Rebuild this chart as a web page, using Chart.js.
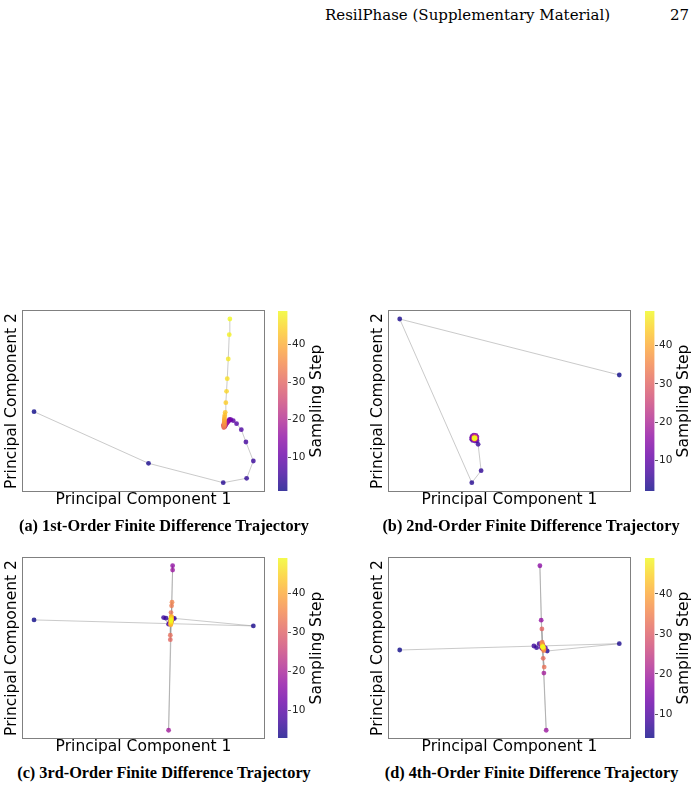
<!DOCTYPE html>
<html>
<head>
<meta charset="utf-8">
<script src="https://cdn.jsdelivr.net/npm/chart.js@4.4.1/dist/chart.umd.min.js"></script>
<style>
  html, body { margin: 0; padding: 0; background: #fff; }
  body { width: 700px; height: 787px; position: relative; overflow: hidden; }
  canvas { position: absolute; }
  .txt { position: absolute; white-space: nowrap; line-height: 1; color: #000; }
  .hdr { font-family: "DejaVu Serif", serif; font-size: 15px; transform: translateY(-50%); }
  .cap { font-family: "Liberation Serif", "Times New Roman", serif; font-weight: bold; font-size: 16.3px; transform: translate(-50%, -50%); }
  .cbl { font-family: "DejaVu Sans", sans-serif; font-size: 15.5px; transform: translate(-50%, -50%) rotate(-90deg); }
</style>
</head>
<body>
<div class="txt hdr" style="left:325px; top:15px">ResilPhase (Supplementary Material)</div>
<div class="txt hdr" style="left:670px; top:15px">27</div>

<script>
// ── Data: PCA coordinates per sampling step (step = FIRST + index) ─────────
const LAST_STEP = 49;
const CBAR_TICKS = [10, 20, 30, 40];

// (a) 1st-order differences, steps 1..49
const A_FIRST = 1;
const A_PC1 = [11.0, 125.0, 199.4, 222.7, 229.4, 222.0, 217.4, 212.7, 209.4, 207.0,
  205.7, 205.2, 204.5, 203.9, 203.3, 202.8, 202.3, 201.9, 201.5, 201.2,
  200.9, 200.6, 200.4, 200.2, 200.1, 200.0, 200.0, 200.1, 200.2, 200.3,
  200.0, 200.1, 200.2, 200.3, 200.4, 200.4, 200.5, 200.5, 200.6, 200.6,
  200.7, 201.0, 201.4, 202.0, 202.7, 203.4, 204.4, 205.4, 206.0];
const A_PC2 = [79.3, 27.7, 8.3, 12.7, 30.0, 49.0, 61.3, 67.3, 70.3, 71.3,
  71.5, 70.5, 69.8, 69.2, 68.5, 67.8, 67.1, 66.4, 65.7, 65.0,
  64.6, 64.3, 64.5, 64.9, 65.3, 65.8, 66.2, 66.5, 66.0, 65.4,
  63.4, 64.0, 64.8, 65.7, 66.6, 67.6, 68.7, 69.9, 71.0, 72.1,
  74.0, 76.0, 78.7, 88.3, 99.7, 112.3, 132.0, 156.3, 172.0];

// (b) 2nd-order differences, steps 2..49
const B_FIRST = 2;
const B_PC1 = [230.0, 10.7, 82.7, 92.0, 89.0, 88.0, 86.0, 83.6, 82.6, 82.6,
  83.4, 84.8, 86.8, 87.8, 87.6, 86.8, 85.8, 84.4, 83.8, 84.2,
  85.2, 86.3, 86.6, 86.0, 85.0, 84.6, 84.9, 85.6, 86.1, 86.0,
  85.5, 85.0, 85.0, 85.4, 85.8, 85.7, 85.4, 85.2, 85.3, 85.5,
  85.5, 85.4, 85.3, 85.4, 85.5, 85.4, 85.4, 85.4];
const B_PC2 = [116.0, 172.0, 8.3, 20.3, 46.7, 50.2, 49.9, 50.6, 51.8, 53.6,
  55.0, 55.8, 55.6, 54.2, 52.6, 51.5, 50.9, 51.6, 53.1, 54.4,
  54.9, 54.2, 53.0, 52.0, 51.8, 52.6, 53.7, 54.0, 53.5, 52.7,
  52.2, 52.5, 53.2, 53.5, 53.2, 52.7, 52.5, 52.8, 53.0, 52.9,
  52.7, 52.6, 52.8, 52.9, 52.8, 52.7, 52.8, 52.7];

// (c) 3rd-order differences, steps 3..49
const C_FIRST = 3;
const C_PC1 = [11.0, 229.4, 150.7, 142.4, 140.0, 145.0, 147.7, 146.2, 149.2, 146.7,
  148.2, 147.2, 147.9, 147.7, 149.0, 149.0, 145.0, 147.2, 147.6, 147.0,
  147.9, 147.3, 148.1, 147.4, 147.8, 147.5, 147.6, 147.3, 146.7, 146.7,
  147.4, 148.0, 148.4, 147.8, 147.1, 147.9, 147.0, 147.7, 147.2, 147.6,
  147.3, 147.5, 147.4, 147.5, 147.4, 147.5, 147.4];
const C_PC2 = [117.7, 111.7, 119.2, 119.4, 120.0, 113.4, 118.7, 115.7, 119.2, 114.7,
  117.2, 116.2, 117.5, 117.2, 171.7, 167.4, 7.7, 116.2, 118.0, 117.0,
  116.4, 118.5, 117.9, 115.8, 117.4, 118.9, 117.3, 116.5, 98.0, 102.4,
  125.0, 131.7, 135.4, 119.6, 114.4, 120.8, 113.3, 121.3, 112.8, 120.5,
  114.0, 119.4, 115.2, 118.4, 116.2, 117.6, 116.9];

// (d) 4th-order differences, steps 4..49
const D_FIRST = 4;
const D_PC1 = [10.7, 230.0, 158.0, 147.4, 144.7, 150.0, 156.2, 152.7, 154.2, 152.2,
  153.7, 153.2, 153.0, 150.7, 152.0, 157.0, 154.7, 153.4, 153.9, 153.1,
  154.2, 153.5, 153.8, 153.3, 153.6, 153.2, 153.8, 152.7, 154.0, 155.0,
  153.0, 154.5, 152.6, 154.9, 152.9, 154.4, 153.2, 154.1, 153.4, 153.9,
  153.5, 153.8, 153.6, 153.7, 153.6, 153.6];
const D_PC2 = [87.7, 94.0, 86.7, 90.0, 91.7, 94.0, 89.7, 91.7, 88.7, 90.2,
  91.7, 89.2, 90.5, 171.7, 117.4, 7.7, 64.7, 91.0, 89.8, 92.2,
  90.4, 88.9, 92.6, 90.0, 91.4, 93.0, 89.5, 108.7, 79.4, 70.7,
  95.5, 87.0, 94.2, 88.2, 93.0, 89.0, 92.0, 89.8, 91.4, 90.3,
  91.0, 90.5, 90.8, 90.6, 90.7, 90.7];

const CAPTIONS = [
  "(a) 1st-Order Finite Difference Trajectory",
  "(b) 2nd-Order Finite Difference Trajectory",
  "(c) 3rd-Order Finite Difference Trajectory",
  "(d) 4th-Order Finite Difference Trajectory",
];

// ── Plasma colormap (matplotlib) ────────────────────────────────────────────
const PLASMA = [
  [13, 8, 135], [65, 4, 157], [106, 0, 168], [143, 13, 164], [177, 42, 144],
  [204, 71, 120], [225, 100, 98], [242, 132, 75], [252, 166, 54], [252, 206, 37], [240, 249, 33],
];
const ALPHA = 0.8;

function plasma(t) {
  t = Math.min(1, Math.max(0, t));
  const f = t * (PLASMA.length - 1);
  const i = Math.min(PLASMA.length - 2, Math.floor(f));
  const u = f - i;
  const c = PLASMA[i].map((v, k) => Math.round(v + (PLASMA[i + 1][k] - v) * u));
  return `rgba(${c[0]},${c[1]},${c[2]},${ALPHA})`;
}

// ── Helpers ─────────────────────────────────────────────────────────────────
const labelFont = { family: "'DejaVu Sans', sans-serif", size: 15.5 };
const tickFont  = { family: "'DejaVu Sans', sans-serif", size: 10.5 };

function addCanvas(left, top, w, h) {
  const c = document.createElement("canvas");
  c.width = w; c.height = h;
  c.style.left = left + "px"; c.style.top = top + "px";
  c.style.width = w + "px"; c.style.height = h + "px";
  document.body.appendChild(c);
  return c;
}

function addText(cls, x, y, text) {
  const d = document.createElement("div");
  d.className = "txt " + cls;
  d.style.left = x + "px"; d.style.top = y + "px";
  d.textContent = text;
  document.body.appendChild(d);
}

function fixSize(prop, v) {
  return s => {
    s[prop] = v;
    s.paddingTop = 0; s.paddingBottom = 0; s.paddingLeft = 0; s.paddingRight = 0;
  };
}

const framePlugin = {
  id: "frame",
  afterDraw(chart) {
    const { ctx, chartArea: a } = chart;
    ctx.save();
    ctx.strokeStyle = "#808080";
    ctx.lineWidth = 1;
    ctx.strokeRect(a.left - 0.5, a.top - 0.5, a.right - a.left + 1, a.bottom - a.top + 1);
    ctx.restore();
  },
};

// ── Scatter trajectory panel ────────────────────────────────────────────────
function renderTrajectory(left, top, first, pc1, pc2, xMax, yMax) {
  const canvas = addCanvas(left, top, 268, 208);
  const colors = pc1.map((_, i) => plasma(i / (LAST_STEP - first)));

  new Chart(canvas, {
    type: "scatter",
    data: {
      datasets: [{
        data: pc1.map((x, i) => ({ x, y: pc2[i] })),
        showLine: true,
        borderColor: "rgba(150,150,150,0.5)",
        borderWidth: 1,
        pointRadius: 2.4,
        pointBorderWidth: 0,
        pointBackgroundColor: colors,
      }],
    },
    options: {
      animation: false,
      responsive: false,
      events: [],
      layout: { padding: { top: 6, right: 4, bottom: 0, left: 0 } },
      plugins: { legend: { display: false }, tooltip: { enabled: false } },
      scales: {
        x: {
          min: 0, max: xMax,
          ticks: { display: false },
          grid: { display: false },
          border: { display: false },
          title: { display: true, text: "Principal Component 1", font: labelFont, color: "#000", padding: { top: 0, bottom: 4 } },
          afterFit: fixSize("height", 22),
        },
        y: {
          min: 0, max: yMax,
          ticks: { display: false },
          grid: { display: false },
          border: { display: false },
          title: { display: true, text: "Principal Component 2", font: labelFont, color: "#000", padding: { top: 3, bottom: 0 } },
          afterFit: fixSize("width", 23),
        },
      },
    },
    plugins: [framePlugin],
  });
}

// ── Colorbar (floating bar over the step range) ─────────────────────────────
function renderColorbar(left, top, first) {
  const canvas = addCanvas(left, top, 70, 192);

  function gradient(ctx) {
    const a = ctx.chart.chartArea;
    if (!a) return plasma(0);
    const g = ctx.chart.ctx.createLinearGradient(0, a.bottom, 0, a.top);
    PLASMA.forEach((_, i) => g.addColorStop(i / (PLASMA.length - 1), plasma(i / (PLASMA.length - 1))));
    return g;
  }

  new Chart(canvas, {
    type: "bar",
    data: {
      labels: [""],
      datasets: [{
        data: [[first, LAST_STEP]],
        backgroundColor: gradient,
        borderWidth: 0,
        barPercentage: 1,
        categoryPercentage: 1,
      }],
    },
    options: {
      animation: false,
      responsive: false,
      events: [],
      layout: { padding: { top: 6, right: 0, bottom: 6, left: 6 } },
      plugins: { legend: { display: false }, tooltip: { enabled: false } },
      scales: {
        x: { display: false },
        y: {
          position: "right",
          min: first, max: LAST_STEP,
          afterBuildTicks: s => { s.ticks = CBAR_TICKS.map(v => ({ value: v })); },
          afterFit: fixSize("width", 54.5),
          grid: { drawOnChartArea: false, drawTicks: true, tickLength: 3.5, tickWidth: 0.8, color: "#333" },
          border: { display: false },
          ticks: { font: tickFont, color: "#222", padding: 1 },
        },
      },
    },
  });
}

// ── Layout ──────────────────────────────────────────────────────────────────
renderTrajectory(0,   305, A_FIRST, A_PC1, A_PC2, 240,   180);
renderTrajectory(366, 305, B_FIRST, B_PC1, B_PC2, 240.7, 180);
renderTrajectory(0,   552, C_FIRST, C_PC1, C_PC2, 240,   179.4);
renderTrajectory(366, 552, D_FIRST, D_PC1, D_PC2, 240.7, 179.4);

renderColorbar(272, 305, A_FIRST);
renderColorbar(639, 305, B_FIRST);
renderColorbar(272, 552, C_FIRST);
renderColorbar(639, 552, D_FIRST);

addText("cbl", 316.7, 401, "Sampling Step");
addText("cbl", 683.7, 401, "Sampling Step");
addText("cbl", 316.7, 648, "Sampling Step");
addText("cbl", 683.7, 648, "Sampling Step");

addText("cap", 164,   526,   CAPTIONS[0]);
addText("cap", 531,   526,   CAPTIONS[1]);
addText("cap", 164,   772.7, CAPTIONS[2]);
addText("cap", 531.5, 772.7, CAPTIONS[3]);
</script>
</body>
</html>
